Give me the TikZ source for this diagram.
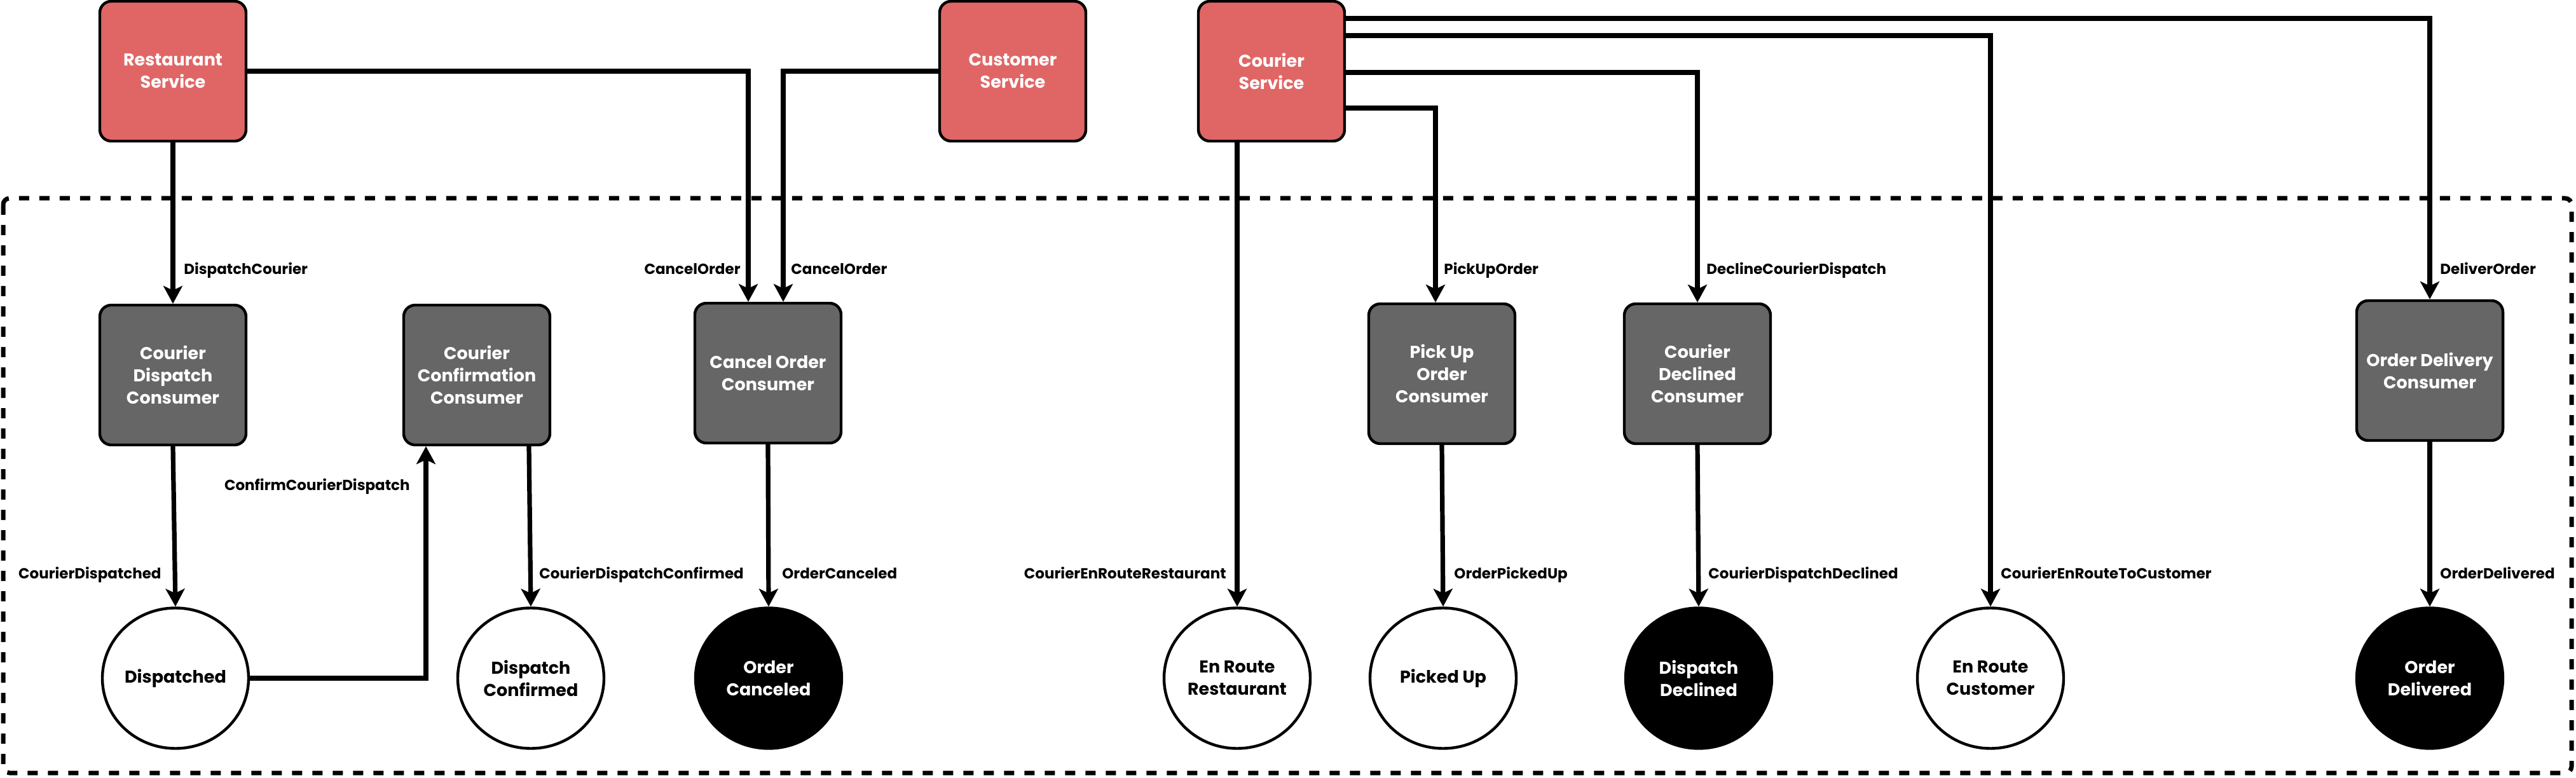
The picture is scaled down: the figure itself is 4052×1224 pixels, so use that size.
\documentclass[tikz,border=0pt]{standalone}
\usepackage{fontspec}
\setmainfont{Poppins}
\usetikzlibrary{shapes.geometric,arrows.meta,calc}
\definecolor{svcred}{HTML}{E06666}
\definecolor{consgray}{HTML}{666666}
\newcommand\ndfont{\fontsize{13.5}{17.5}\selectfont\bfseries}
\newcommand\lbfont{\fontsize{11.5}{14}\selectfont\bfseries}
\begin{document}
\begin{tikzpicture}[x=0.5pt,y=-0.5pt,
  svc/.style={draw=black, line width=2.2pt, fill=svcred, rounded corners=9pt, minimum width=115pt, minimum height=110pt, text=white, font=\ndfont, align=center, inner sep=0pt},
  cons/.style={svc, fill=consgray},
  stw/.style={ellipse, draw=black, line width=2.2pt, fill=white, minimum width=115pt, minimum height=110.5pt, font=\ndfont, align=center, inner sep=0pt},
  stb/.style={stw, fill=black, text=white},
  conn/.style={line width=3.6pt, -{Stealth[length=14pt,width=15pt,inset=3.5pt]}},
  lbl/.style={font=\lbfont, inner sep=0pt},
  boundary/.style={line width=3.5pt, dash pattern=on 8pt off 8pt, rounded corners=5pt}
]
\useasboundingbox (0,0) rectangle (4052,1224);
\draw[boundary] (5,312) rectangle (4045,1216);

% services
\node[svc] (RS) at (272,112) {Restaurant\\Service};
\node[svc] (CS) at (1593,112) {Customer\\Service};
\node[svc] (CoS) at (2000,112) {Courier\\Service};

% consumers
\node[cons] (CDC) at (272,590) {Courier\\Dispatch\\Consumer};
\node[cons] (CCC) at (750,590) {Courier\\Confirmation\\Consumer};
\node[cons] (COC) at (1208,587) {Cancel Order\\Consumer};
\node[cons] (PUOC) at (2268,588) {Pick Up\\Order\\Consumer};
\node[cons] (CDeC) at (2670,588) {Courier\\Declined\\Consumer};
\node[cons] (ODC) at (3822,583) {Order Delivery\\Consumer};

% states
\node[stw] (D) at (276,1067) {Dispatched};
\node[stw] (DC) at (835,1067) {Dispatch\\Confirmed};
\node[stb] (OC) at (1209,1067) {Order\\Canceled};
\node[stw] (ERR) at (1946,1067) {En Route\\Restaurant};
\node[stw] (PU) at (2270,1067) {Picked Up};
\node[stb] (DD) at (2672,1067) {Dispatch\\Declined};
\node[stw] (ERC) at (3131,1067) {En Route\\Customer};
\node[stb] (OD) at (3822,1067) {Order\\Delivered};

% connectors
\draw[conn] (RS.south) -- (CDC.north);
\draw[conn] (RS.east) -| ($(COC.north)+(-31,0)$);
\draw[conn] (CS.west) -| ($(COC.north)+(24,0)$);
\draw[conn] ($(CoS.south)+(-54,0)$) -- (ERR.north);
\draw[conn] ($(CoS.east)+(0,58)$) -| ($(PUOC.north)+(-10,0)$);
\draw[conn] ($(CoS.east)+(0,2)$) -| (CDeC.north);
\draw[conn] ($(CoS.east)+(0,-56)$) -| (ERC.north);
\draw[conn] ($(CoS.east)+(0,-83)$) -| (ODC.north);
\draw[conn] (CDC.south) -- (D.north);
\draw[conn] (D.east) -| ($(CCC.south)+(-80,0)$);
\draw[conn] ($(CCC.south)+(82,0)$) -- (DC.north);
\draw[conn] (COC.south) -- (OC.north);
\draw[conn] (PUOC.south) -- (PU.north);
\draw[conn] (CDeC.south) -- (DD.north);
\draw[conn] (ODC.south) -- (OD.north);

% labels
\node[lbl, anchor=base west] (l1) at (289,432) {DispatchCourier};
\node[lbl, anchor=base east] (l2) at (1165,432) {CancelOrder};
\node[lbl, anchor=base west] (l3) at (1244,432) {CancelOrder};
\node[lbl, anchor=base west] (l4) at (2271,432) {PickUpOrder};
\node[lbl, anchor=base west] (l5) at (2684,432) {DeclineCourierDispatch};
\node[lbl, anchor=base west] (l6) at (3838,432) {DeliverOrder};
\node[lbl, anchor=base east] (l7) at (645,771) {ConfirmCourierDispatch};
\node[lbl, anchor=base east] (l8) at (254,910) {CourierDispatched};
\node[lbl, anchor=base west] (l9) at (848,910) {CourierDispatchConfirmed};
\node[lbl, anchor=base west] (l10) at (1230,910) {OrderCanceled};
\node[lbl, anchor=base east] (l11) at (1929,910) {CourierEnRouteRestaurant};
\node[lbl, anchor=base west] (l12) at (2287,910) {OrderPickedUp};
\node[lbl, anchor=base west] (l13) at (2687,910) {CourierDispatchDeclined};
\node[lbl, anchor=base west] (l14) at (3147,910) {CourierEnRouteToCustomer};
\node[lbl, anchor=base west] (l15) at (3838,910) {OrderDelivered};
\end{tikzpicture}
\end{document}
